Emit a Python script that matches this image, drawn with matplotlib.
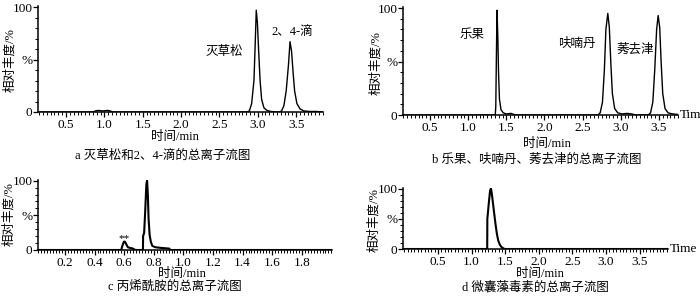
import numpy as np
import matplotlib
matplotlib.use('Agg')
from matplotlib import pyplot as plt
from matplotlib.ticker import MultipleLocator, FixedLocator, FixedFormatter

plt.rcParams['font.family'] = ['Liberation Serif', 'Noto Sans CJK SC']
plt.rcParams['axes.unicode_minus'] = False

# a: 灭草松, 2、4-滴
a_t = [0.13, 0.86, 0.88, 0.92, 0.98, 1.04, 1.08, 1.10, 2.86, 2.89, 2.92, 2.95, 2.965, 2.98, 2.995,
       3.01, 3.03, 3.05, 3.08, 3.12, 3.17, 3.24, 3.28, 3.31, 3.34, 3.37, 3.40, 3.42, 3.44,
       3.46, 3.48, 3.51, 3.55, 3.60, 3.68, 3.76, 3.85]
a_y = [0, 0, 1, 1.5, 1, 1.5, 1, 0, 0, 1, 8, 30, 62, 97, 85,
       60, 30, 12, 4, 1.5, 0.5, 0, 0, 1, 6, 20, 45, 67, 58,
       38, 20, 8, 3, 1, 0.5, 0.5, 0]

# b: 乐果, 呋喃丹, 莠去津
b_t = [0.146, 1.355, 1.362, 1.37, 1.378, 1.388, 1.398, 1.41, 1.43, 1.46, 1.50, 1.56, 1.60, 1.64,
       2.70, 2.73, 2.76, 2.785, 2.805, 2.83, 2.85, 2.87, 2.89, 2.92, 2.96, 3.02, 3.08, 3.14, 3.20,
       3.36, 3.39, 3.42, 3.445, 3.47, 3.49, 3.51, 3.53, 3.55, 3.58, 3.62, 3.68, 3.75]
b_y = [0, 0, 8, 55, 98, 75, 40, 15, 5, 2, 1, 1.5, 0.5, 0,
       0, 2, 12, 42, 80, 95, 82, 48, 20, 6, 2, 1, 1.5, 1, 0,
       0, 2, 12, 42, 80, 93, 82, 48, 20, 6, 2, 1, 0.5]

# c: 丙烯酰胺
c_t = [0.018, 0.58, 0.588, 0.598, 0.605, 0.615, 0.625, 0.64, 0.66, 0.675,
       0.727, 0.728, 0.735, 0.742, 0.75, 0.755, 0.76, 0.765, 0.772, 0.78, 0.79,
       0.81, 0.85, 0.88, 0.905, 0.91, 2.004]
c_y = [0, 0, 6, 12, 12, 8, 4, 3, 2, 0,
       0, 20, 25, 55, 95, 100, 80, 45, 22, 12, 6,
       4, 3, 2.5, 2, 0, 0]

# d: 微囊藻毒素
d_t = [-0.02, 1.232, 1.234, 1.255, 1.275, 1.288, 1.30, 1.322, 1.34, 1.357, 1.376,
       1.396, 1.42, 1.446, 1.48, 1.50, 3.92]
d_y = [0, 0, 50, 75, 97, 100, 92, 72, 55, 40, 25,
       14, 7, 3, 0.5, 0, 0]

W, H = 700, 296
fig = plt.figure(figsize=(7, 2.96), dpi=100)


def px(x, y):
    return x / W, 1 - y / H


def make_ax(left, right, top, bottom, xlim, major, minor, t, y, lw):
    ax = fig.add_axes([left / W, 1 - bottom / H, (right - left) / W, (bottom - top) / H])
    ax.plot(t, y, color='black', lw=lw)
    ax.set_xlim(xlim)
    ax.set_ylim(0, 101)
    for s in ['top', 'right']:
        ax.spines[s].set_visible(False)
    for s in ['left', 'bottom']:
        ax.spines[s].set_linewidth(1.1)
    ax.xaxis.set_major_locator(MultipleLocator(major))
    ax.xaxis.set_minor_locator(MultipleLocator(minor))
    ax.yaxis.set_major_locator(FixedLocator([0, 50, 100]))
    ax.yaxis.set_major_formatter(FixedFormatter(['0', '%', '100']))
    ax.yaxis.set_minor_locator(MultipleLocator(10))
    ax.tick_params(axis='both', which='major', direction='out', length=3.5, width=0.9,
                   labelsize=9.5, pad=1.5)
    ax.tick_params(axis='both', which='minor', direction='out', length=2, width=0.7)
    ax.tick_params(axis='y', pad=0.5)
    return ax


ax_a = make_ax(38, 323, 6, 112, (0.135, 3.85), 0.5, 0.05, a_t, a_y, 1.0)
ax_a.set_xticks([0.5, 1.0, 1.5, 2.0, 2.5, 3.0, 3.5])
ax_a.set_xticklabels(['0.5', '1.0', '1.5', '2.0', '2.5', '3.0', '3.5'])

ax_b = make_ax(403, 678, 7, 115, (0.146, 3.75), 0.5, 0.05, b_t, b_y, 1.0)
ax_b.set_xticks([0.5, 1.0, 1.5, 2.0, 2.5, 3.0, 3.5])
ax_b.set_xticklabels(['0.5', '1.0', '1.5', '2.0', '2.5', '3.0', '3.5'])

ax_c = make_ax(38, 332, 180, 250, (0.018, 2.004), 0.2, 0.02, c_t, c_y, 1.5)
ax_c.set_xticks([0.2, 0.4, 0.6, 0.8, 1.0, 1.2, 1.4, 1.6, 1.8])
ax_c.set_xticklabels(['0.2', '0.4', '0.6', '0.8', '1.0', '1.2', '1.4', '1.6', '1.8'])

ax_d = make_ax(403, 668, 188, 249, (-0.02, 3.92), 0.5, 0.05, d_t, d_y, 1.5)
ax_d.set_xticks([0.5, 1.0, 1.5, 2.0, 2.5, 3.0, 3.5])
ax_d.set_xticklabels(['0.5', '1.0', '1.5', '2.0', '2.5', '3.0', '3.5'])

fs = 9
# y labels
for (x, y) in [(10, 60), (376, 63), (9, 214), (374, 220)]:
    fig.text(*px(x, y), '相对丰度/%', rotation=90, ha='center', va='center', fontsize=fs)
# x labels
for (x, y) in [(175, 137), (547, 144), (182, 274), (540, 274)]:
    fig.text(*px(x, y), '时间/min', ha='center', va='center', fontsize=fs)

# captions
fig.text(*px(163, 156), 'a 灭草松和2、4-滴的总离子流图', ha='center', va='center', fontsize=fs)
fig.text(*px(537, 160), 'b 乐果、呋喃丹、莠去津的总离子流图', ha='center', va='center', fontsize=fs)
fig.text(*px(175, 287), 'c 丙烯酰胺的总离子流图', ha='center', va='center', fontsize=fs)
fig.text(*px(535, 287), 'd 微囊藻毒素的总离子流图', ha='center', va='center', fontsize=fs)

# peak names
fig.text(*px(224, 52), '灭草松', ha='center', va='center', fontsize=fs)
fig.text(*px(292, 32), '2、4-滴', ha='center', va='center', fontsize=fs)
fig.text(*px(472, 35), '乐果', ha='center', va='center', fontsize=fs)
fig.text(*px(577, 44), '呋喃丹', ha='center', va='center', fontsize=fs)
fig.text(*px(635, 50), '莠去津', ha='center', va='center', fontsize=fs)
fig.text(*px(124, 239), '**', ha='center', va='center', fontsize=8)

fig.text(*px(680, 115), 'Tim', ha='left', va='center', fontsize=9.5)
fig.text(*px(670, 249), 'Time', ha='left', va='center', fontsize=9.5)

fig.savefig('out.png', dpi=100, facecolor='white')
